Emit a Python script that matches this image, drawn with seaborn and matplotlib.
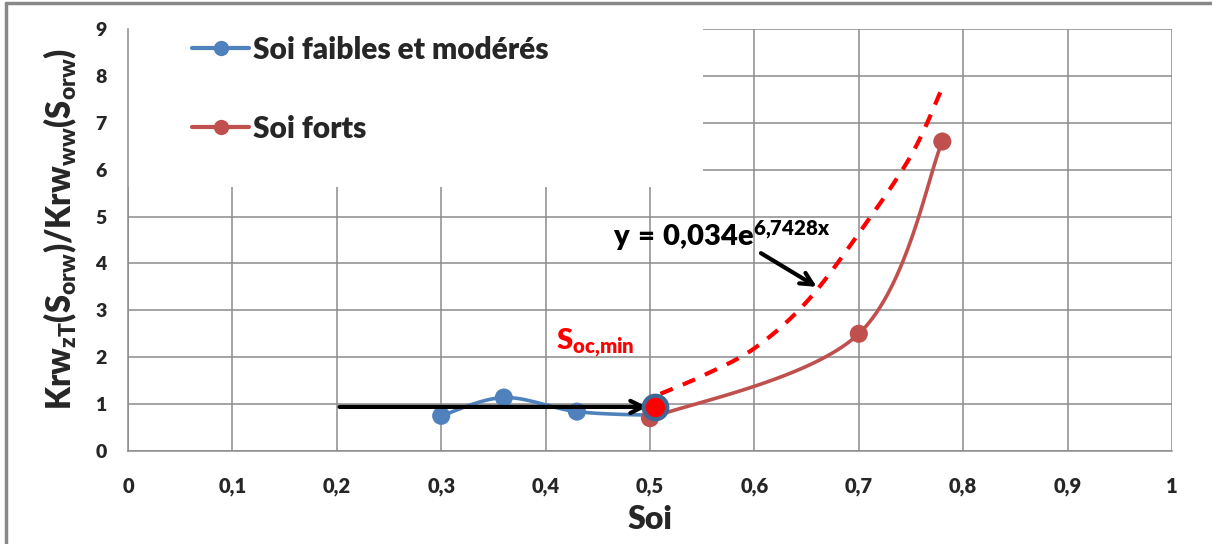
import numpy as np
import matplotlib
matplotlib.use('Agg')
import matplotlib.pyplot as plt
import seaborn as sns
from matplotlib.lines import Line2D
from matplotlib.patches import Rectangle

sns.set_style('white')
plt.rcParams['font.family'] = ['Lato', 'DejaVu Sans']
plt.rcParams['font.weight'] = 800
plt.rcParams['mathtext.fontset'] = 'custom'
plt.rcParams['mathtext.rm'] = 'Lato:weight=heavy'
plt.rcParams['mathtext.bf'] = 'Lato:weight=heavy'
plt.rcParams['mathtext.it'] = 'Lato:italic'

# data
soi_faible = [0.30, 0.36, 0.43, 0.505]
krw_faible = [0.75, 1.14, 0.84, 0.76]
soi_fort = [0.50, 0.70, 0.78]
krw_fort = [0.70, 2.50, 6.60]
soi_fit = [0.51, 0.55, 0.60, 0.65, 0.70, 0.75, 0.78]
krw_fit = [1.22, 1.60, 2.19, 3.18, 4.64, 6.30, 7.75]
soc_min = (0.505, 0.94)
x_ticks = [0, 0.1, 0.2, 0.3, 0.4, 0.5, 0.6, 0.7, 0.8, 0.9, 1]
x_ticklabels = ['0', '0,1', '0,2', '0,3', '0,4', '0,5', '0,6', '0,7', '0,8', '0,9', '1']
y_ticks = list(range(0, 10))

BLUE = '#4F81BD'
RED = '#C0504D'
GRID = '#8C8C8C'


def smooth(xs, ys, n=40):
    # Excel-like smoothed line (cubic bezier through points)
    p = np.column_stack([xs, ys]).astype(float)
    ext = np.vstack([p[0], p, p[-1]])
    t = np.linspace(0, 1, n)[:, None]
    out = []
    for i in range(len(p) - 1):
        p0, p1 = ext[i + 1], ext[i + 2]
        c1 = p0 + (ext[i + 2] - ext[i]) / 6
        c2 = p1 - (ext[i + 3] - ext[i + 1]) / 6
        seg = ((1 - t) ** 3) * p0 + 3 * ((1 - t) ** 2) * t * c1 + 3 * (1 - t) * t ** 2 * c2 + t ** 3 * p1
        out.append(seg)
    out = np.vstack(out)
    return out[:, 0], out[:, 1]


fig = plt.figure(figsize=(12.12, 5.44), dpi=100)
ax = fig.add_axes([128 / 1212, 1 - 451 / 544, 1044 / 1212, 422 / 544])

ax.set_xlim(0, 1)
ax.set_ylim(0, 9)
ax.set_xticks(x_ticks)
ax.set_xticklabels(x_ticklabels)
ax.set_yticks(y_ticks)
ax.grid(True, color=GRID, lw=1.1)
ax.set_axisbelow(True)
for s in ['top', 'right']:
    ax.spines[s].set_visible(False)
for s in ['left', 'bottom']:
    ax.spines[s].set_color(GRID)
    ax.spines[s].set_linewidth(1.1)
ax.tick_params(axis='y', direction='inout', length=11, width=1.1, color=GRID,
               pad=10, labelsize=14)
ax.tick_params(axis='x', direction='out', length=7, width=1.1, color=GRID,
               pad=12, labelsize=14.5)
for lab in ax.get_xticklabels() + ax.get_yticklabels():
    lab.set_fontweight(800)

# white area behind the legend
ax.add_patch(Rectangle((0, 5.63 / 9), 0.551, 1 - 5.63 / 9 + 0.01, transform=ax.transAxes,
                       facecolor='white', edgecolor='none', zorder=1, clip_on=False))

# fitted exponential (dashed)
fx, fy = smooth(soi_fit, krw_fit)
ax.plot(fx, fy, color='#FF0000', lw=3, ls=(0, (3.2, 2.6)), zorder=3)

# series
bx, by = smooth(soi_faible, krw_faible)
ax.plot(bx, by, color=BLUE, lw=2.6, zorder=3, solid_capstyle='round')
rx, ry = smooth(soi_fort, krw_fort)
ax.plot(rx, ry, color=RED, lw=2.6, zorder=3, solid_capstyle='round')
sns.scatterplot(x=soi_faible[:3], y=krw_faible[:3], color=BLUE, s=170, edgecolor='none',
                ax=ax, zorder=4)
sns.scatterplot(x=soi_fort, y=krw_fort, color=RED, s=170, edgecolor='none', ax=ax, zorder=4)

# arrows
ax.annotate('', xy=(0.5, soc_min[1]), xytext=(0.2, soc_min[1]),
            arrowprops=dict(arrowstyle='->', color='black', lw=3, mutation_scale=22),
            zorder=5)
ax.plot(*soc_min, marker='o', ms=17, mfc='#FF0000', mec='#3F6796', mew=3, zorder=6)

ax.annotate('', xy=(0.662, 3.47), xytext=(0.604, 4.25),
            arrowprops=dict(arrowstyle='->', color='black', lw=3, mutation_scale=22),
            zorder=5)
ax.text(0.465, 4.38, r'$\mathbf{y\,=\,0{,}034e^{6{,}7428x}}$', fontsize=21, color='black',
        zorder=6)
ax.text(0.41, 2.15, r'$\mathbf{S_{oc{,}min}}$', fontsize=21, color='#FF0000', zorder=6)

ax.set_xlabel('Soi', fontsize=23, fontweight=800, labelpad=6)
ax.set_ylabel(r'$\mathbf{Krw_{zT}(S_{orw})/Krw_{ww}(S_{orw})}$', fontsize=23.5)
ax.yaxis.set_label_coords(-0.047, 0.525)

handles = [Line2D([], [], color=BLUE, lw=3, marker='o', ms=10),
           Line2D([], [], color=RED, lw=3, marker='o', ms=10)]
ax.legend(handles, ['Soi faibles et modérés', 'Soi forts'], loc='upper left',
          bbox_to_anchor=(0.05, 1.012), frameon=False, prop={'size': 21.5, 'weight': 800},
          labelspacing=1.7, handlelength=1.9, handletextpad=0.15, borderaxespad=0)

# outer frame (top and left edges visible)
fig.add_artist(Line2D([6 / 1212, 6 / 1212], [0, 1 - 3 / 544], color='#888888', lw=2.5))
fig.add_artist(Line2D([6 / 1212, 1], [1 - 3 / 544, 1 - 3 / 544], color='#888888', lw=2.5))

fig.savefig('out.png', dpi=100)
